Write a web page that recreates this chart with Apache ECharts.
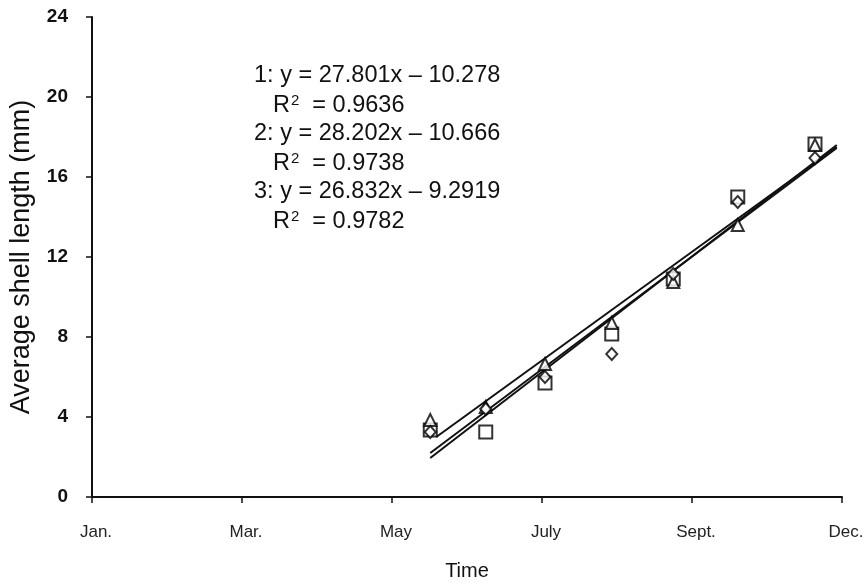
<!DOCTYPE html>
<html><head><meta charset="utf-8">
<script src="https://cdn.jsdelivr.net/npm/echarts@6/dist/echarts.min.js"></script>
<style>html,body{margin:0;padding:0;background:#fff}#c{width:867px;height:584px}</style>
</head><body><div id="c"></div>
<script>
// x positions: Jan.=0, Mar.=2, May=4, July=6, Sept.=8, Dec.=10 (equally spaced ticks)
var tickLabels = ['Jan.', 'Mar.', 'May', 'July', 'Sept.', 'Dec.'];
var sampleX = [4.51, 5.25, 6.04, 6.93, 7.75, 8.61, 9.64];
var squares = [3.35, 3.25, 5.7, 8.15, 10.9, 15.0, 17.65];
var triangles = [3.85, 4.5, 6.65, 8.7, 10.75, 13.6, 17.6];
var diamonds = [3.25, 4.4, 6.0, 7.15, 11.15, 14.75, 16.95];
// regression line endpoints [x, y]
var line1 = [[4.59, 3.0], [9.93, 17.5]];
var line2 = [[4.51, 2.2], [9.93, 17.45]];
var line3 = [[4.51, 1.95], [9.93, 17.6]];
var equations = [
  ['1: y = 27.801x \u2013 10.278', '0.9636'],
  ['2: y = 28.202x \u2013 10.666', '0.9738'],
  ['3: y = 26.832x \u2013 9.2919', '0.9782']
];

function pts(ys) { return sampleX.map(function (x, i) { return [x, ys[i]]; }); }
var ff = '"Liberation Sans", Arial, sans-serif';
var mk = { color: '#fff', borderColor: '#000', borderWidth: 2 };

var graphics = [];
equations.forEach(function (e, i) {
  graphics.push({ type: 'text', left: 254, top: 64 + i * 58,
    style: { text: e[0], font: '23.5px ' + ff, fill: '#111' } });
  graphics.push({ type: 'text', left: 273, top: 93 + i * 58,
    style: { text: '{a|R}{s|2}{a|  = ' + e[1] + '}', fill: '#111',
      rich: { a: { font: '23.5px ' + ff, fill: '#111' },
              s: { font: '15px ' + ff, fill: '#111', verticalAlign: 'top', padding: [0, 0, 10, 1] } } } });
});

var chart = echarts.init(document.getElementById('c'));
chart.setOption({
  animation: false,
  backgroundColor: '#fff',
  grid: { left: 92, right: 25, top: 17, bottom: 87, containLabel: false, outerBoundsMode: 'none' },
  xAxis: {
    type: 'value', min: 0, max: 10, interval: 2,
    name: 'Time', nameLocation: 'middle', nameGap: 64,
    nameTextStyle: { fontFamily: ff, fontSize: 20, color: '#111' },
    axisLine: { lineStyle: { color: '#111', width: 2 } },
    axisTick: { show: true, length: 6, lineStyle: { color: '#111', width: 1.5 } },
    splitLine: { show: false },
    axisLabel: { fontFamily: ff, fontSize: 17, color: '#222', margin: 27, padding: [0, 0, 0, 8],
      formatter: function (v) { return tickLabels[Math.round(v / 2)]; } }
  },
  yAxis: {
    type: 'value', min: 0, max: 24, interval: 4,
    name: 'Average shell length (mm)', nameLocation: 'middle', nameGap: 57,
    nameTextStyle: { fontFamily: ff, fontSize: 27, color: '#111' },
    axisLine: { show: true, lineStyle: { color: '#111', width: 2 } },
    axisTick: { show: true, length: 6, lineStyle: { color: '#111', width: 1.5 } },
    splitLine: { show: false },
    axisLabel: { fontFamily: ff, fontSize: 19, fontWeight: 'bold', color: '#111', margin: 24 }
  },
  series: [
    { type: 'line', data: line1, symbol: 'none', lineStyle: { color: '#111', width: 2 }, z: 2 },
    { type: 'line', data: line2, symbol: 'none', lineStyle: { color: '#111', width: 2 }, z: 2 },
    { type: 'line', data: line3, symbol: 'none', lineStyle: { color: '#111', width: 2 }, z: 2 },
    { type: 'scatter', data: pts(squares), symbol: 'rect', symbolSize: 13, itemStyle: mk, z: 3 },
    { type: 'scatter', data: pts(triangles), symbol: 'triangle', symbolSize: 12, itemStyle: mk, z: 4 },
    { type: 'scatter', data: pts(diamonds), symbol: 'diamond', symbolSize: [11, 12], itemStyle: mk, z: 5 }
  ],
  graphic: graphics
});
</script></body></html>
